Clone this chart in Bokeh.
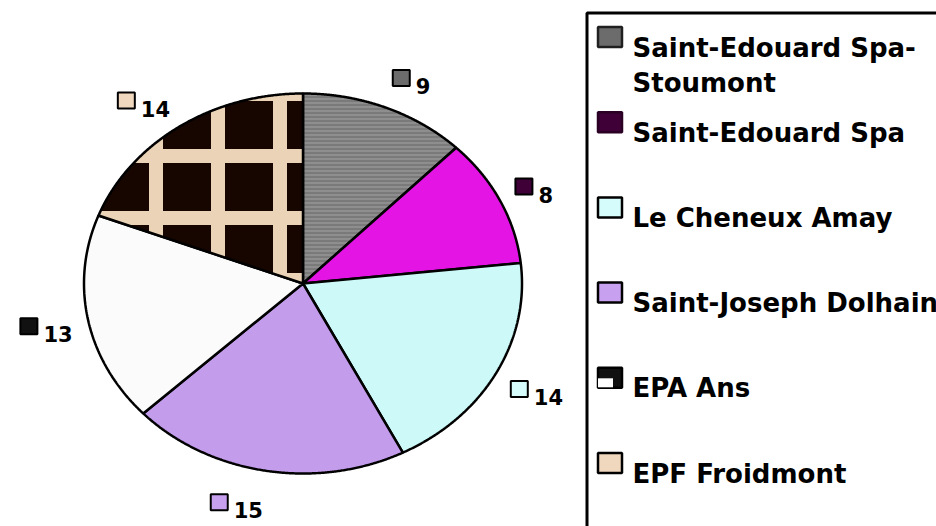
import numpy as np
from bokeh.plotting import figure
from bokeh.models import Range1d
from bokeh.embed import file_html
from bokeh.resources import INLINE
from bokeh.core.properties import value

# ---- data ----
categories = ["Saint-Edouard Spa-Stoumont", "Saint-Edouard Spa", "Le Cheneux Amay",
              "Saint-Joseph Dolhain", "EPA Ans", "EPF Froidmont"]
counts = [9, 8, 14, 15, 13, 14]

slice_colors = ["#7a7a7a", "#e414e4", "#cdf9f9", "#c49cec", "#fbfbfb", "#170600"]
swatch_colors = ["#6c6c6c", "#3e0036", "#d6fbfb", "#c8a0f0", "#111111", "#f0d8bf"]
swatch_lines = ["#202020", "#2a0025", "#000000", "#000000", "#000000", "#000000"]
hatch_patterns = ["horizontal_line", None, None, None, None, "cross"]
hatch_colors = ["#a2a2a2", None, None, None, None, "#ead3b6"]
hatch_scales = [4, 12, 12, 12, 12, 62]
hatch_weights = [1, 1, 1, 1, 1, 14]

# ---- layout helpers (window pixel -> data) ----
W, H = 936, 526
CX, CY, RX, RY = 302.5, 283.0, 219.0, 190.0
def X(xw):
    return (xw - CX) / RX
def Y(yw):
    return (CY - yw) / RY

p = figure(width=W, height=H, x_range=Range1d(X(0), X(W)), y_range=Range1d(Y(H), Y(0)),
           x_axis_type=None, y_axis_type=None, toolbar_location=None, output_backend="svg",
           min_border=0, outline_line_color=None, background_fill_color="white",
           border_fill_color="white")

# ---- pie slices (angles clockwise from 12 o'clock) ----
total = float(sum(counts))
cum = np.concatenate([[0.0], np.cumsum(counts)]) / total * 2 * np.pi
for i in range(len(counts)):
    th = np.linspace(cum[i], cum[i + 1], 240)
    xs = np.concatenate([[0.0], np.sin(th)])
    ys = np.concatenate([[0.0], np.cos(th)])
    kw = {}
    if hatch_patterns[i]:
        kw = dict(hatch_pattern=hatch_patterns[i], hatch_color=hatch_colors[i],
                  hatch_scale=hatch_scales[i], hatch_weight=hatch_weights[i])
    p.patch(xs, ys, fill_color=slice_colors[i], line_color="black", line_width=2.5, **kw)

# ---- data labels (inner edge of label box on a ring outside the pie) ----
FONT = value("DejaVu Sans")
for i, v in enumerate(counts):
    m = (cum[i] + cum[i + 1]) / 2
    inner = (235.0 / RX) * np.sin(m)
    ay = (222.0 / RY) * np.cos(m)
    txt = str(v)
    w = (19 + 5 + 14.5 * len(txt)) / RX
    left = inner if np.sin(m) >= 0 else inner - w
    sx = left + 9.5 / RX
    tx = left + 24 / RX
    p.rect(x=[sx], y=[ay], width=17 / RX, height=16 / RY, fill_color=swatch_colors[i],
           line_color="black", line_width=2)
    p.text(x=[tx], y=[ay - 8 / RY], text=[txt], text_font=FONT, text_font_style="bold",
           text_font_size="21px", text_align="left", text_baseline="alphabetic", text_color="black")

# ---- legend ----
p.quad(left=[X(586.5)], right=[X(1200)], top=[Y(12.5)], bottom=[Y(900)],
       fill_color="white", line_color="black", line_width=3)
row0, step = 37.5, 85.2
for i, name in enumerate(categories):
    c = row0 + i * step
    p.rect(x=[X(609.5)], y=[Y(c - 1)], width=24 / RX, height=20 / RY,
           fill_color=swatch_colors[i], line_color=swatch_lines[i], line_width=2.5)
    if name == "EPA Ans":
        p.rect(x=[X(605)], y=[Y(c + 4)], width=15 / RX, height=9 / RY,
               fill_color="white", line_color=None)
    lines = name.replace("Spa-", "Spa-\n").split("\n")
    for j, ln in enumerate(lines):
        p.text(x=[X(632)], y=[Y(c + 9.5 + 35 * j)], text=[ln], text_font=FONT,
               text_font_style="bold", text_font_size="26px", text_align="left",
               text_baseline="alphabetic", text_color="black")

open("out.html", "w").write(file_html(p, INLINE))
